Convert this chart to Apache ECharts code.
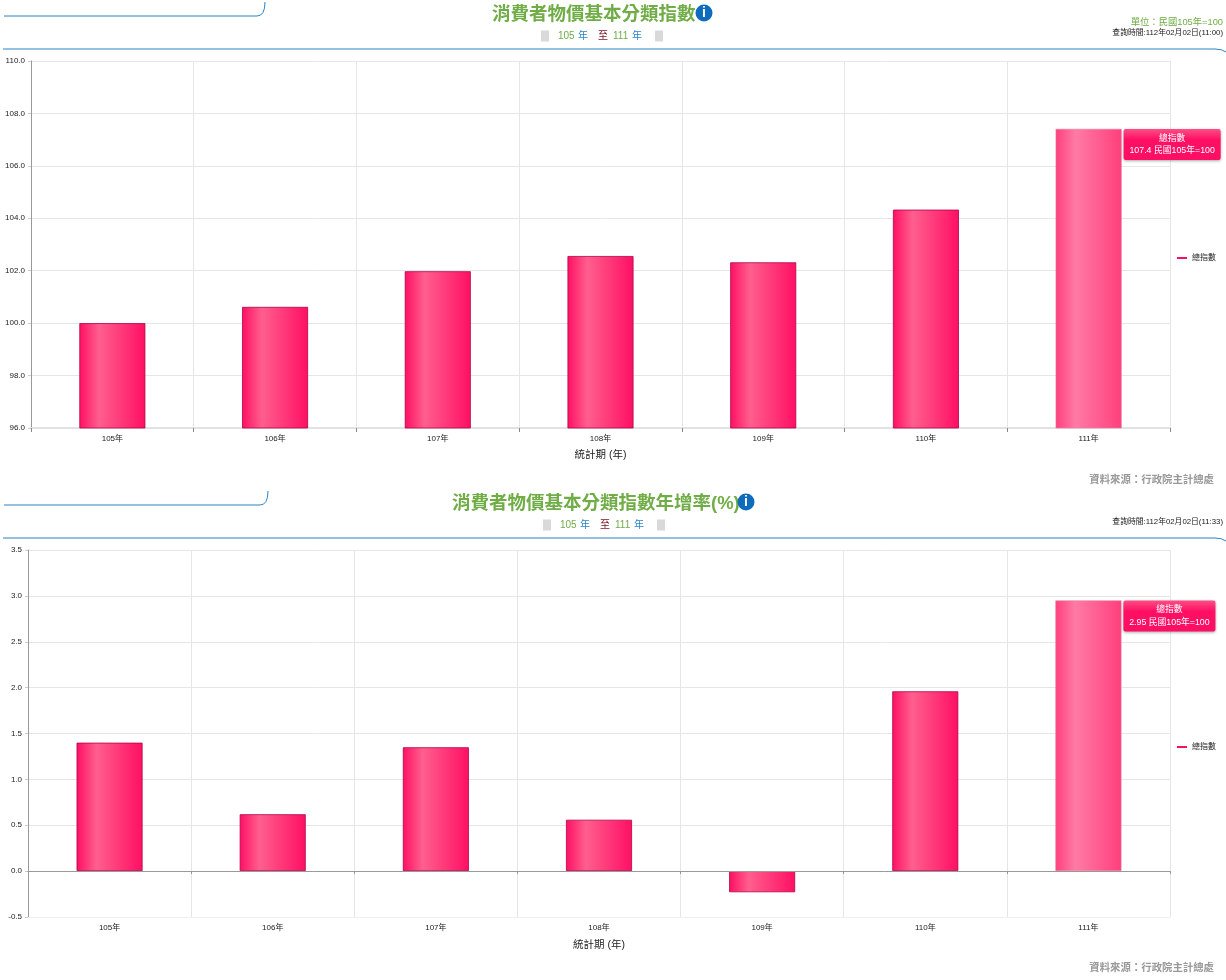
<!DOCTYPE html>
<html><head><meta charset="utf-8">
<style>html,body{margin:0;padding:0;background:#fff}#c{width:1226px;height:980px}</style>
<script src="https://cdn.jsdelivr.net/npm/echarts@6/dist/echarts.min.js"></script>
</head><body><div id="c"></div>
<script>
const categories = ['105年','106年','107年','108年','109年','110年','111年'];
const seriesName = '總指數';
const indexValues = [100.0, 100.62, 101.98, 102.56, 102.32, 104.33, 107.41];
const growthValues = [1.40, 0.62, 1.35, 0.56, -0.23, 1.96, 2.95];
const indexTip = '107.4 民國105年=100';
const growthTip = '2.95 民國105年=100';
const titleA = '消費者物價基本分類指數';
const titleB = '消費者物價基本分類指數年增率(%)';
const xName = '統計期 (年)';
const sourceText = '資料來源：行政院主計總處';
const queryA = '查詢時間:112年02月02日(11:00)';
const queryB = '查詢時間:112年02月02日(11:33)';
const unitText = '單位：民國105年=100';

const FONT = '"Liberation Sans","Noto Sans CJK TC",sans-serif';
const grad = (a, b) => new echarts.graphic.LinearGradient(0, 0, 1, 0, [
  {offset: 0, color: a}, {offset: 0.3, color: b}, {offset: 1, color: a}]);
const normal = () => grad('#ff0f63', '#ff5f8e');
const last = () => grad('#ff3f7c', '#ff7ba6');

function barData(vals, tip, dx) {
  const w = tip.length > 15 ? 97 : 92;
  return vals.map((v, i) => i < vals.length - 1 ? {
    value: v,
    itemStyle: {color: normal(), borderColor: '#b0004a', borderWidth: 0.8}
  } : {
    value: v,
    itemStyle: {color: last(), borderColor: '#e87aa0', borderWidth: 0.6},
    label: {
      show: true, position: [dx, 0], align: 'left', verticalAlign: 'top',
      formatter: '{a|' + seriesName + '}\n{b|' + tip + '}',
      backgroundColor: new echarts.graphic.LinearGradient(0, 0, 0, 1, [
        {offset: 0, color: '#ff4f86'}, {offset: 0.35, color: '#ff0f63'}, {offset: 1, color: '#ff0f63'}]),
      borderRadius: 2, padding: [3, 0, 3, 0], width: w,
      shadowColor: 'rgba(0,0,0,0.35)', shadowBlur: 3, shadowOffsetY: 1,
      rich: {
        a: {color: '#fff', fontSize: 8.8, lineHeight: 12.5, align: 'center', width: w, fontFamily: FONT},
        b: {color: '#fff', fontSize: 8.8, lineHeight: 12.5, align: 'center', width: w, fontFamily: FONT}
      }
    }
  });
}

function decor(o) {
  const y = o.y, T = (x, text, fill, size, w, yy, align) => ({
    type: 'text', x, y: yy, silent: true,
    style: {text, fill, font: (w || 'normal') + ' ' + size + 'px ' + FONT, textAlign: align || 'left', textVerticalAlign: 'middle'}
  });
  const G = (x, yy) => ({type: 'rect', silent: true, shape: {x, y: yy, width: 8, height: 11}, style: {fill: '#d9d9d9'}});
  const S = {fill: 'none', stroke: '#2a84c6', lineWidth: 1};
  const L = (x1, y1, x2, y2) => ({type: 'line', silent: true, shape: {x1, y1, x2, y2}, style: S});
  const C = (x1, y1, cpx1, cpy1, x2, y2) => ({type: 'bezierCurve', silent: true, shape: {x1, y1, cpx1, cpy1, x2, y2}, style: S});
  return [
    L(4, o.tabY, o.tabX - 8, o.tabY),
    C(o.tabX - 8, o.tabY, o.tabX, o.tabY, o.tabX, o.tabY - 14),
    L(3, o.lineY, 1215, o.lineY),
    C(1215, o.lineY, 1222, o.lineY, 1226, o.lineY + 3),
    T(o.titleX, o.title, '#70ad47', 18.5, 'bold', y + 1.5),
    {type: 'circle', silent: true, shape: {cx: o.infoX, cy: y, r: 8.5}, style: {fill: '#0f6cbd'}},
    T(o.infoX, 'i', '#fff', 14, 'bold', y, 'center'),
    G(o.subX, y + 17.5), G(o.subX + 114, y + 17.5),
    T(o.subX + 17, '105', '#70ad47', 10, null, y + 23),
    T(o.subX + 37, '年', '#2a84c6', 10, null, y + 23),
    T(o.subX + 57, '至', '#7a1020', 10, null, y + 23),
    T(o.subX + 72, '111', '#70ad47', 10, null, y + 23),
    T(o.subX + 91, '年', '#2a84c6', 10, null, y + 23),
    T(1223, o.query, '#222', 7.8, null, o.queryY, 'right'),
    T(1214, sourceText, '#999', 10.4, 'bold', o.sourceY, 'right')
  ];
}

const chart = echarts.init(document.getElementById('c'), null, {renderer: 'canvas'});

const xBase = (gi) => ({
  type: 'category', gridIndex: gi, data: categories, position: 'bottom',
  axisLine: {onZero: false, lineStyle: {color: gi ? '#f0f0f0' : '#e2e2e2', width: gi ? 1 : 2}},
  axisTick: {show: gi === 0, length: 4, lineStyle: {color: '#888'}},
  axisLabel: {color: '#222', fontSize: 8, margin: 7, fontFamily: FONT},
  splitLine: {show: true, lineStyle: {color: '#e6e6e6'}},
  name: xName, nameLocation: 'middle', nameGap: gi ? 23 : 22,
  nameTextStyle: {color: '#222', fontSize: 10.5, fontFamily: FONT}
});
const yBase = (gi, min, max, interval, digits) => ({
  type: 'value', gridIndex: gi, min, max, interval,
  axisLine: {show: true, lineStyle: {color: '#999'}},
  axisTick: {show: true, length: 3, lineStyle: {color: '#ccc'}},
  axisLabel: {color: '#222', fontSize: 8, margin: 6, fontFamily: FONT, formatter: v => v.toFixed(digits)},
  splitLine: {show: true, lineStyle: {color: '#e6e6e6'}}
});
const barSeries = (ax, vals, tip, dx) => ({
  name: seriesName, type: 'bar', xAxisIndex: ax, yAxisIndex: ax === 0 ? 0 : 1,
  barWidth: 66, z: 3, data: barData(vals, tip, dx)
});
const legendAt = (top) => ({
  data: [{name: seriesName, icon: 'rect'}], left: 1172, top, orient: 'vertical',
  itemWidth: 10, itemHeight: 2, itemGap: 4, selectedMode: false,
  textStyle: {color: '#222', fontSize: 8, fontFamily: FONT}
});

chart.setOption({
  animation: false,
  color: ['#ff0f63'],
  grid: [
    {left: 31, right: 56, top: 61, height: 367},
    {left: 28, right: 56, top: 550, height: 367}
  ],
  legend: [legendAt(249), legendAt(738)],
  xAxis: [
    xBase(0),
    xBase(1),
    {type: 'category', gridIndex: 1, data: categories, position: 'bottom',
     axisLine: {onZero: true, lineStyle: {color: '#999'}},
     axisTick: {show: true, length: 3, lineStyle: {color: '#999'}},
     axisLabel: {show: false}, splitLine: {show: false}, z: 5}
  ],
  yAxis: [yBase(0, 96, 110, 2, 1), yBase(1, -0.5, 3.5, 0.5, 1)],
  series: [barSeries(0, indexValues, indexTip, 68), barSeries(1, growthValues, growthTip, 68)],
  graphic: {elements: [
    ...decor({y: 13, title: titleA, titleX: 492, infoX: 704, subX: 541, tabX: 265, tabY: 16, lineY: 49, query: queryA, queryY: 32.5, sourceY: 480}),
    {type: 'text', x: 1223, y: 22.5, silent: true, style: {text: unitText, fill: '#70ad47', font: '9.3px ' + FONT, textAlign: 'right', textVerticalAlign: 'middle'}},
    ...decor({y: 502, title: titleB, titleX: 452, infoX: 746, subX: 543, tabX: 268, tabY: 505, lineY: 538, query: queryB, queryY: 521.5, sourceY: 968})
  ]}
});
</script></body></html>
